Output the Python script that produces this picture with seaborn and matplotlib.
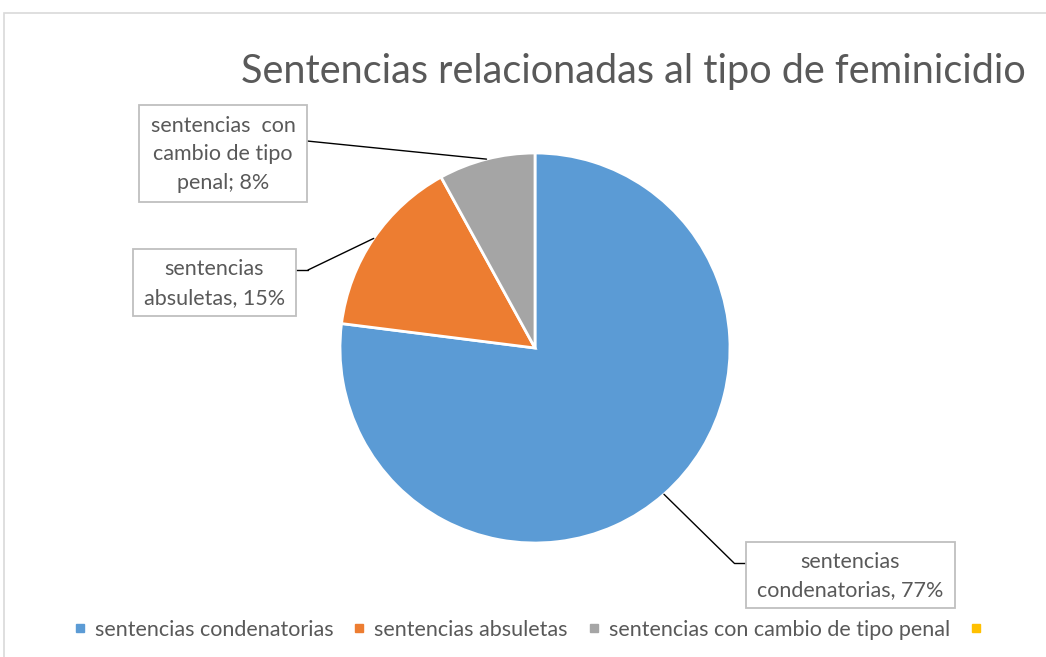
import numpy as np
import pandas as pd
import matplotlib.pyplot as plt
import seaborn as sns
from matplotlib.lines import Line2D
from matplotlib.patches import Rectangle

# Datos del grafico
categorias = ['sentencias condenatorias', 'sentencias absuletas',
              'sentencias con cambio de tipo penal', '']
porcentajes = [77, 15, 8]
etiquetas = ['sentencias\ncondenatorias, 77%',
             'sentencias\nabsuletas, 15%',
             'sentencias  con\ncambio de tipo\npenal; 8%']
colores = sns.color_palette(['#5B9BD5', '#ED7D31', '#A5A5A5', '#FFC000'])

sns.set_theme(style='white')
plt.rcParams['font.family'] = ['Lato', 'DejaVu Sans']
gris_txt = '#595959'

W, H = 1046, 657
fig = plt.figure(figsize=(W / 100, H / 100), dpi=100)


def fx(x, y):
    # pixeles (origen arriba-izquierda) -> fraccion de figura
    return x / W, 1 - y / H


# marco del grafico
x0, y0 = fx(4, 13)
fig.add_artist(Rectangle((x0, -0.1), 1.2, y0 + 0.1, transform=fig.transFigure,
                         fill=False, ec='#D9D9D9', lw=1.2))

# pastel
cx, cy, r = 535, 348, 195
ax = fig.add_axes([(cx - r) / W, (H - cy - r) / H, 2 * r / W, 2 * r / H])
wedges, _ = ax.pie(porcentajes, colors=colores[:3], startangle=90, counterclock=False,
                   wedgeprops=dict(edgecolor='white', linewidth=2))
ax.set_xlim(-1, 1)
ax.set_ylim(-1, 1)
ax.set_aspect('equal')
ax.axis('off')

fig.text(*fx(633, 71), 'Sentencias relacionadas al tipo de feminicidio',
         ha='center', va='center', fontsize=28.5, color=gris_txt)

# cajas de etiquetas: (x, y, ancho, alto), punto de union, codo
cajas = [((746, 542, 209, 66), (746, 563), (734, 563)),
         ((133, 249, 163, 67), (296, 270), (308, 270)),
         ((139, 105, 168, 97), (307, 141), (307, 141))]

for w, texto, (caja, union, codo) in zip(wedges, etiquetas, cajas):
    bx, by, bw, bh = caja
    fig.add_artist(Rectangle(fx(bx, by + bh), bw / W, bh / H, transform=fig.transFigure,
                             fc='white', ec='#BFBFBF', lw=1.3, zorder=3))
    fig.text(*fx(bx + bw / 2, by + bh / 2 + 1), texto, ha='center', va='center',
             fontsize=15.5, color=gris_txt, linespacing=1.55, zorder=4)
    ang = np.deg2rad((w.theta1 + w.theta2) / 2)
    ax.annotate('', xy=(np.cos(ang), np.sin(ang)), xycoords='data',
                xytext=fx(*codo), textcoords='figure fraction', annotation_clip=False,
                arrowprops=dict(arrowstyle='-', color='black', lw=1, shrinkA=0, shrinkB=0))
    fig.add_artist(Line2D([fx(*union)[0], fx(*codo)[0]], [fx(*union)[1], fx(*codo)[1]],
                          transform=fig.transFigure, color='black', lw=1))

# leyenda
handles = [Line2D([], [], marker='s', ls='', color=c, markersize=6) for c in colores]
fig.legend(handles, categorias, loc='center', bbox_to_anchor=fx(532, 630), ncol=4,
           frameon=False, fontsize=15.5, handlelength=0.6, handletextpad=0.4,
           columnspacing=0.9, labelcolor=gris_txt)

fig.savefig('out.png', dpi=100)
